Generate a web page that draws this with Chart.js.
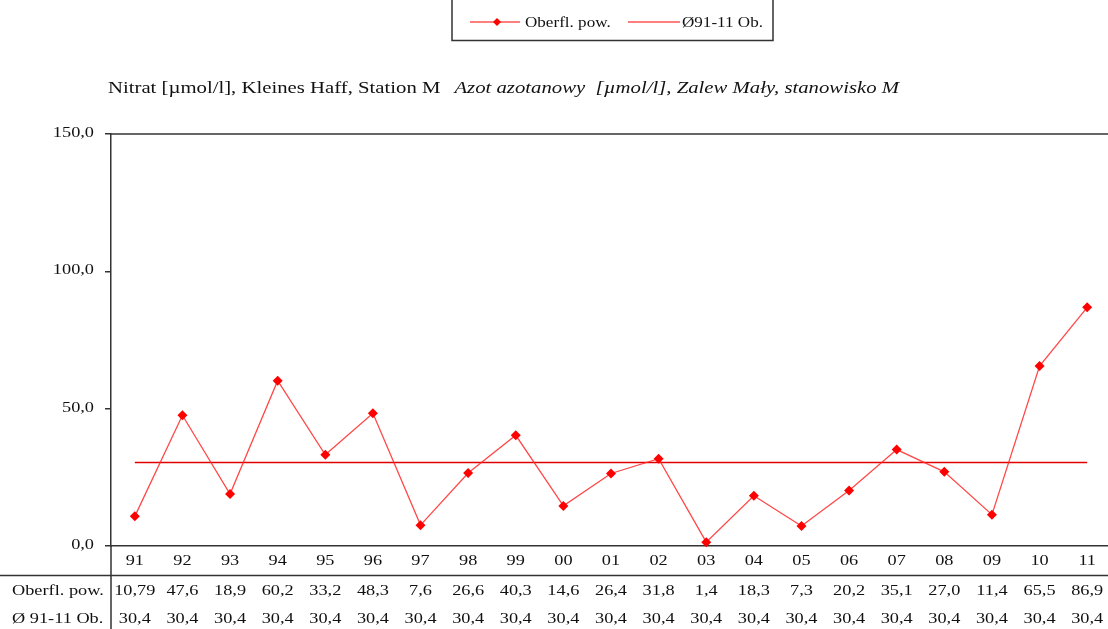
<!DOCTYPE html>
<html>
<head>
<meta charset="utf-8">
<script src="https://cdn.jsdelivr.net/npm/chart.js@4/dist/chart.umd.min.js"></script>
<style>
  html, body { margin: 0; padding: 0; background: #fff; overflow: hidden; }
  #wrap { width: 1116px; height: 629px; position: relative; }
</style>
</head>
<body>
<div id="wrap"><canvas id="chart"></canvas></div>
<script>
const years = ["91","92","93","94","95","96","97","98","99","00","01","02","03","04","05","06","07","08","09","10","11"];
const surface = [10.79, 47.6, 18.9, 60.2, 33.2, 48.3, 7.6, 26.6, 40.3, 14.6, 26.4, 31.8, 1.4, 18.3, 7.3, 20.2, 35.1, 27.0, 11.4, 65.5, 86.9];
const average = [30.4, 30.4, 30.4, 30.4, 30.4, 30.4, 30.4, 30.4, 30.4, 30.4, 30.4, 30.4, 30.4, 30.4, 30.4, 30.4, 30.4, 30.4, 30.4, 30.4, 30.4];
const surfaceLabel = "Oberfl. pow.";
const averageLabel = "Ø 91-11 Ob.";
const yTicks = [0, 50, 100, 150];

const serif = "'Liberation Serif', 'Times New Roman', serif";
const STRETCH = 1.22;

function fmt(v, i) {
  if (i === 0 && v === 10.79) return "10,79";
  return v.toFixed(1).replace(".", ",");
}

// draw text squeezed wider, like the original export
function txt(ctx, s, x, y, align, font) {
  ctx.save();
  ctx.font = font;
  ctx.textBaseline = "middle";
  ctx.textAlign = "left";
  const w = ctx.measureText(s).width * STRETCH;
  let x0 = x;
  if (align === "center") x0 = x - w / 2;
  if (align === "right") x0 = x - w;
  ctx.translate(x0, y);
  ctx.scale(STRETCH, 1);
  ctx.fillText(s, 0, 0);
  ctx.restore();
  return w;
}

const extras = {
  id: "extras",
  afterDraw(chart) {
    const ctx = chart.ctx;
    const x = chart.scales.x;
    const y = chart.scales.y;
    const area = chart.chartArea;
    ctx.save();

    // top border of plot area
    ctx.strokeStyle = "#333";
    ctx.lineWidth = 1.5;
    ctx.beginPath();
    ctx.moveTo(area.left, area.top);
    ctx.lineTo(area.right, area.top);
    ctx.stroke();

    // data table lines
    ctx.beginPath();
    ctx.moveTo(0, 575.5);
    ctx.lineTo(1116, 575.5);
    ctx.moveTo(area.left, area.bottom);
    ctx.lineTo(area.left, 629);
    ctx.stroke();

    ctx.fillStyle = "#111";
    const f15 = "15px " + serif;

    // y tick labels
    yTicks.forEach(function (v) {
      txt(ctx, v.toFixed(1).replace(".", ","), 94, y.getPixelForValue(v) - 1, "right", f15);
    });

    // category labels and table rows
    txt(ctx, surfaceLabel, 12, 591, "left", f15);
    txt(ctx, averageLabel, 12, 619, "left", f15);
    years.forEach(function (yr, i) {
      const px = x.getPixelForValue(i);
      txt(ctx, yr, px, 561, "center", f15);
      txt(ctx, fmt(surface[i], i), px, 591, "center", f15);
      txt(ctx, fmt(average[i], 1), px, 619, "center", f15);
    });

    // title
    const w1 = txt(ctx, "Nitrat [µmol/l], Kleines Haff, Station M", 108, 89, "left", "17px " + serif);
    txt(ctx, "Azot azotanowy  [µmol/l], Zalew Mały, stanowisko M", 108 + w1 + 14, 89, "left", "italic 17px " + serif);

    // legend box (top edge clipped off)
    ctx.strokeStyle = "#333";
    ctx.lineWidth = 1.5;
    ctx.beginPath();
    ctx.moveTo(452, 0);
    ctx.lineTo(452, 40.5);
    ctx.lineTo(773, 40.5);
    ctx.lineTo(773, 0);
    ctx.stroke();

    ctx.strokeStyle = "#ff0000";
    ctx.lineWidth = 1.2;
    ctx.beginPath();
    ctx.moveTo(470, 22);
    ctx.lineTo(520, 22);
    ctx.moveTo(628, 22);
    ctx.lineTo(680, 22);
    ctx.stroke();
    ctx.fillStyle = "#ff0000";
    ctx.beginPath();
    ctx.moveTo(497, 18);
    ctx.lineTo(501, 22);
    ctx.lineTo(497, 26);
    ctx.lineTo(493, 22);
    ctx.closePath();
    ctx.fill();

    ctx.fillStyle = "#111";
    txt(ctx, surfaceLabel, 525, 23, "left", "14px " + serif);
    txt(ctx, "Ø91-11 Ob.", 682, 23, "left", "14px " + serif);

    ctx.restore();
  }
};

new Chart(document.getElementById("chart"), {
  type: "line",
  data: {
    labels: years,
    datasets: [
      {
        label: surfaceLabel,
        data: surface,
        borderColor: "rgba(255, 40, 40, 0.85)",
        borderWidth: 1.3,
        backgroundColor: "#ff0000",
        pointStyle: "rectRot",
        pointRadius: 5,
        pointBorderWidth: 0,
        tension: 0,
        clip: false
      },
      {
        label: averageLabel,
        data: average,
        borderColor: "#e00000",
        borderWidth: 1.3,
        pointRadius: 0,
        tension: 0
      }
    ]
  },
  options: {
    responsive: true,
    maintainAspectRatio: false,
    animation: false,
    layout: { padding: { top: 134, right: 0, left: 0, bottom: 0 } },
    plugins: {
      legend: { display: false },
      title: { display: false },
      tooltip: { enabled: false }
    },
    scales: {
      x: {
        offset: true,
        grid: { display: false },
        border: { display: true, color: "#333", width: 1.5 },
        ticks: { display: false },
        afterFit: function (scale) { scale.height = 83; }
      },
      y: {
        min: 0,
        max: 150,
        afterBuildTicks: function (scale) {
          scale.ticks = yTicks.map(function (v) { return { value: v }; });
        },
        grid: {
          drawOnChartArea: false,
          drawTicks: true,
          tickLength: 6,
          color: "#333",
          lineWidth: 1.5
        },
        border: { display: true, color: "#333", width: 1.5 },
        ticks: { display: false },
        afterFit: function (scale) { scale.width = 111; }
      }
    }
  },
  plugins: [extras]
});
</script>
</body>
</html>
